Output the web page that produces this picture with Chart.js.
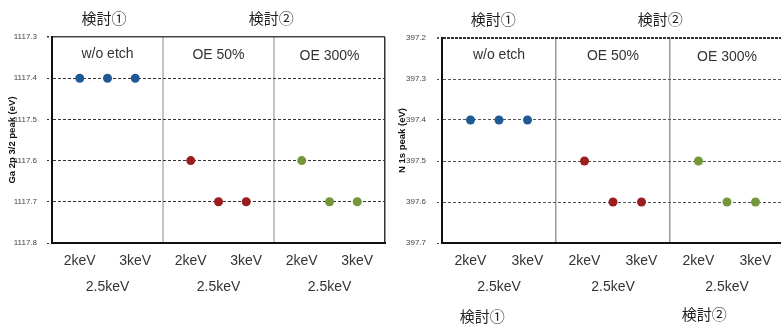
<!DOCTYPE html>
<html>
<head>
<meta charset="utf-8">
<script src="https://cdn.jsdelivr.net/npm/chart.js@4/dist/chart.umd.min.js"></script>
<style>
  html, body { margin: 0; padding: 0; background: #fff; overflow: hidden; }
  #wrap { position: relative; width: 781px; height: 325px; overflow: hidden; }
  #ga { position: absolute; left: 0; top: 0; }
  #n1s { position: absolute; left: 390px; top: 0; }
</style>
</head>
<body>
<div id="wrap">
  <canvas id="ga" width="390" height="325"></canvas>
  <canvas id="n1s" width="400" height="325"></canvas>
</div>
<script>
// sample groups and beam energies
const groupNames = ['w/o etch', 'OE 50%', 'OE 300%'];
const energyLabels = ['2keV', '2.5keV', '3keV'];
const studyLabels = ['検討①', '検討②'];
const groupColors = ['#1f5a96', '#9b1e1e', '#76963a'];

// Ga 2p3/2 peak (eV)
const gaWoEtch = [1117.4, 1117.4, 1117.4];
const gaOE50 = [1117.6, 1117.7, 1117.7];
const gaOE300 = [1117.6, 1117.7, 1117.7];
const gaTicks = [1117.3, 1117.8];

// N 1s peak (eV)
const nWoEtch = [397.4, 397.4, 397.4];
const nOE50 = [397.5, 397.6, 397.6];
const nOE300 = [397.5, 397.6, 397.6];
const nTicks = [397.2, 397.7];

const SLOTS = 4; // 3 energies + gap per group

function makeDatasets(series) {
  return series.map((vals, g) => ({
    label: groupNames[g],
    data: vals.map((v, i) => ({ x: g * SLOTS + i + 1, y: v })),
    showLine: false,
    pointRadius: 4.5,
    pointHoverRadius: 4.5,
    pointBackgroundColor: groupColors[g],
    pointBorderColor: groupColors[g],
    pointBorderWidth: 0
  }));
}

// group names inside the plot, plus free text like 検討①
const textPlugin = {
  id: 'groupText',
  afterDatasetsDraw(chart, args, opts) {
    const { ctx, chartArea, scales: { x } } = chart;
    ctx.save();
    ctx.textAlign = 'center';
    ctx.textBaseline = 'middle';
    ctx.fillStyle = '#333';
    ctx.font = '14px "Liberation Sans", Arial, sans-serif';
    groupNames.forEach((name, g) => {
      ctx.fillText(name, x.getPixelForValue(g * SLOTS + 2), chartArea.top + 17 + g);
    });
    ctx.fillStyle = '#222';
    ctx.font = '15px "Noto Sans CJK JP", sans-serif';
    (opts.notes || []).forEach(n => {
      ctx.fillText(n.text, x.getPixelForValue(n.at), n.y);
    });
    ctx.restore();
  }
};

function makeChart(id, series, range, title, style) {
  const top = range[0];
  return new Chart(document.getElementById(id), {
    type: 'scatter',
    data: { datasets: makeDatasets(series) },
    plugins: [textPlugin],
    options: {
      responsive: false,
      animation: false,
      events: [],
      layout: { padding: { top: style.top, right: style.right, left: 0, bottom: 0 } },
      plugins: {
        legend: { display: false },
        tooltip: { enabled: false },
        groupText: { notes: style.notes }
      },
      scales: {
        x: {
          type: 'linear',
          min: 0,
          max: SLOTS * groupNames.length,
          afterFit: s => { s.height = 82; },
          ticks: {
            stepSize: 1,
            autoSkip: false,
            maxRotation: 0,
            padding: 5,
            color: '#333',
            font: { family: '"Liberation Sans", Arial, sans-serif', size: 14, lineHeight: 1.86 },
            callback: v => {
              const k = v % SLOTS;
              if (k === 1) return energyLabels[0];
              if (k === 2) return ['', energyLabels[1]];
              if (k === 3) return energyLabels[2];
              return '';
            }
          },
          grid: {
            drawTicks: false,
            lineWidth: c => (c.tick && c.tick.value === SLOTS * groupNames.length) ? 1.5 : style.divWidth,
            color: c => {
              if (!c.tick || c.tick.value === 0) return 'transparent';
              if (c.tick.value === SLOTS * groupNames.length) return '#333';
              return c.tick.value % SLOTS === 0 ? style.divColor : 'transparent';
            }
          },
          border: { color: '#111', width: 2 }
        },
        y: {
          type: 'linear',
          reverse: true,
          min: range[0],
          max: range[1],
          afterFit: s => { s.width = 52; },
          title: {
            display: true,
            text: title,
            color: '#111',
            padding: { top: 7, bottom: 0 },
            font: { family: '"Liberation Sans", Arial, sans-serif', size: 9.5, weight: 'bold' }
          },
          ticks: {
            stepSize: 0.1,
            padding: style.tickPad,
            color: '#444',
            font: { family: '"Liberation Sans", Arial, sans-serif', size: 8 },
            callback: v => v.toFixed(1)
          },
          grid: {
            tickLength: 5,
            tickBorderDash: [2, 2],
            color: c => (c.tick && Math.abs(c.tick.value - top) < 1e-6) ? style.topColor : style.gridColor,
            tickColor: style.gridColor,
            lineWidth: c => (c.tick && Math.abs(c.tick.value - top) < 1e-6) ? style.topWidth : 1
          },
          border: {
            color: '#111',
            width: 2,
            dash: c => (c.tick && Math.abs(c.tick.value - top) < 1e-6) ? style.topDash : [3, 2]
          }
        }
      }
    }
  });
}

makeChart('ga', [gaWoEtch, gaOE50, gaOE300], gaTicks, 'Ga 2p 3/2 peak (eV)', {
  top: 37, right: 3, tickPad: 10,
  gridColor: '#333', topColor: '#444', topWidth: 1.5, topDash: [],
  divColor: '#c4c4c4', divWidth: 2,
  notes: [
    { text: studyLabels[0], at: 1.87, y: 18.5 },
    { text: studyLabels[1], at: 7.9, y: 18.5 }
  ]
});

makeChart('n1s', [nWoEtch, nOE50, nOE300], nTicks, 'N 1s peak (eV)', {
  top: 38, right: 6, tickPad: 11,
  gridColor: '#555', topColor: '#333', topWidth: 2, topDash: [3, 1],
  divColor: '#999', divWidth: 1.5,
  notes: [
    { text: studyLabels[0], at: 1.8, y: 19 },
    { text: studyLabels[1], at: 7.66, y: 19 },
    { text: studyLabels[0], at: 1.41, y: 316 },
    { text: studyLabels[1], at: 9.2, y: 314 }
  ]
});
</script>
</body>
</html>
